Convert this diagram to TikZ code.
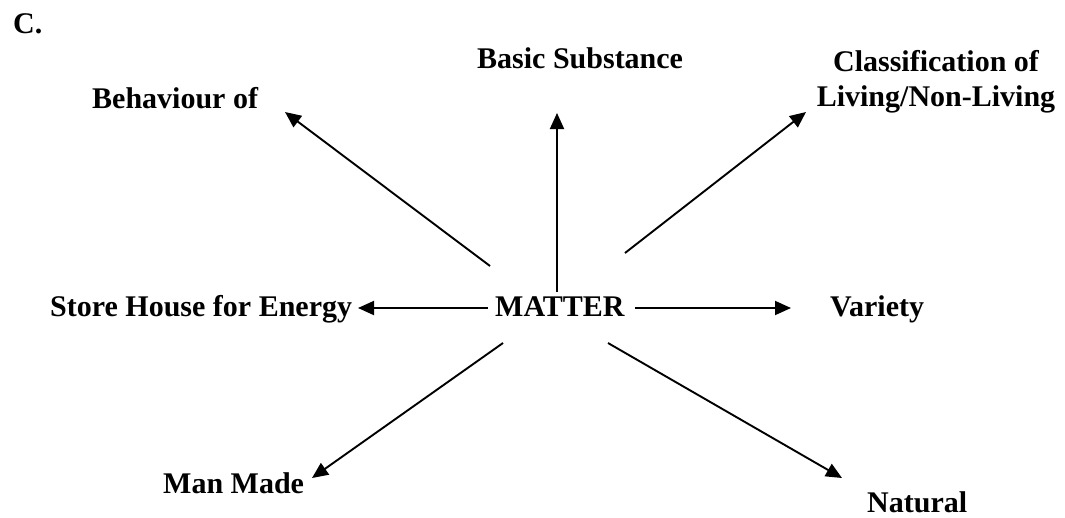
\documentclass[tikz,border=0pt]{standalone}
\usepackage{fontspec}
\setmainfont{Liberation Serif}
\usetikzlibrary{arrows.meta,calc}
\begin{document}
\begin{tikzpicture}[x=1pt,y=-1pt,
  lbl/.style={font=\fontsize{30}{35}\selectfont\bfseries, inner sep=0pt, anchor=base west},
  arr/.style={line width=1.9pt, -{Triangle[length=16pt,width=14pt]}}]
\useasboundingbox (0,0) rectangle (1065,517);
% labels
\node[lbl] (c) at (13,33) {C.};
\node[lbl] (matter) at (495,316) {MATTER};
\node[lbl] (beh) at (92,108) {Behaviour of};
\node[lbl] (basic) at (477,68) {Basic Substance};
\node[lbl, align=center, anchor=north] (cls) at (936,50) {Classification of\\Living/Non-Living};
\node[lbl] (store) at (50,316) {Store House for Energy};
\node[lbl] (var) at (830,316) {Variety};
\node[lbl] (man) at (163,493) {Man Made};
\node[lbl] (nat) at (867,512) {Natural};
% connector ends near MATTER
\coordinate (m-nw) at ($(matter.base west)+(-5,-50)$);
\coordinate (m-n)  at ($(matter.base west)+(62,-24)$);
\coordinate (m-ne) at ($(matter.base west)+(130,-63)$);
\coordinate (m-w)  at ($(matter.base west)+(-7,-8)$);
\coordinate (m-e)  at ($(matter.base west)+(140,-8)$);
\coordinate (m-sw) at ($(matter.base west)+(8,27)$);
\coordinate (m-se) at ($(matter.base west)+(113,27)$);
% connector ends near the outer labels
\coordinate (t-beh)   at ($(beh.base west)+(193,4)$);
\coordinate (t-basic) at ($(basic.base west)+(80,45)$);
\coordinate (t-cls)   at (806,112);
\coordinate (t-store) at ($(store.base west)+(308,-8)$);
\coordinate (t-var)   at ($(var.base west)+(-39,-8)$);
\coordinate (t-man)   at ($(man.base west)+(149,-15)$);
\coordinate (t-nat)   at ($(nat.base west)+(-25,-34)$);
% connectors
\draw[arr] (m-nw) -- (t-beh);
\draw[arr] (m-n)  -- (t-basic);
\draw[arr] (m-ne) -- (t-cls);
\draw[arr] (m-w)  -- (t-store);
\draw[arr] (m-e)  -- (t-var);
\draw[arr] (m-sw) -- (t-man);
\draw[arr] (m-se) -- (t-nat);
\end{tikzpicture}
\end{document}
